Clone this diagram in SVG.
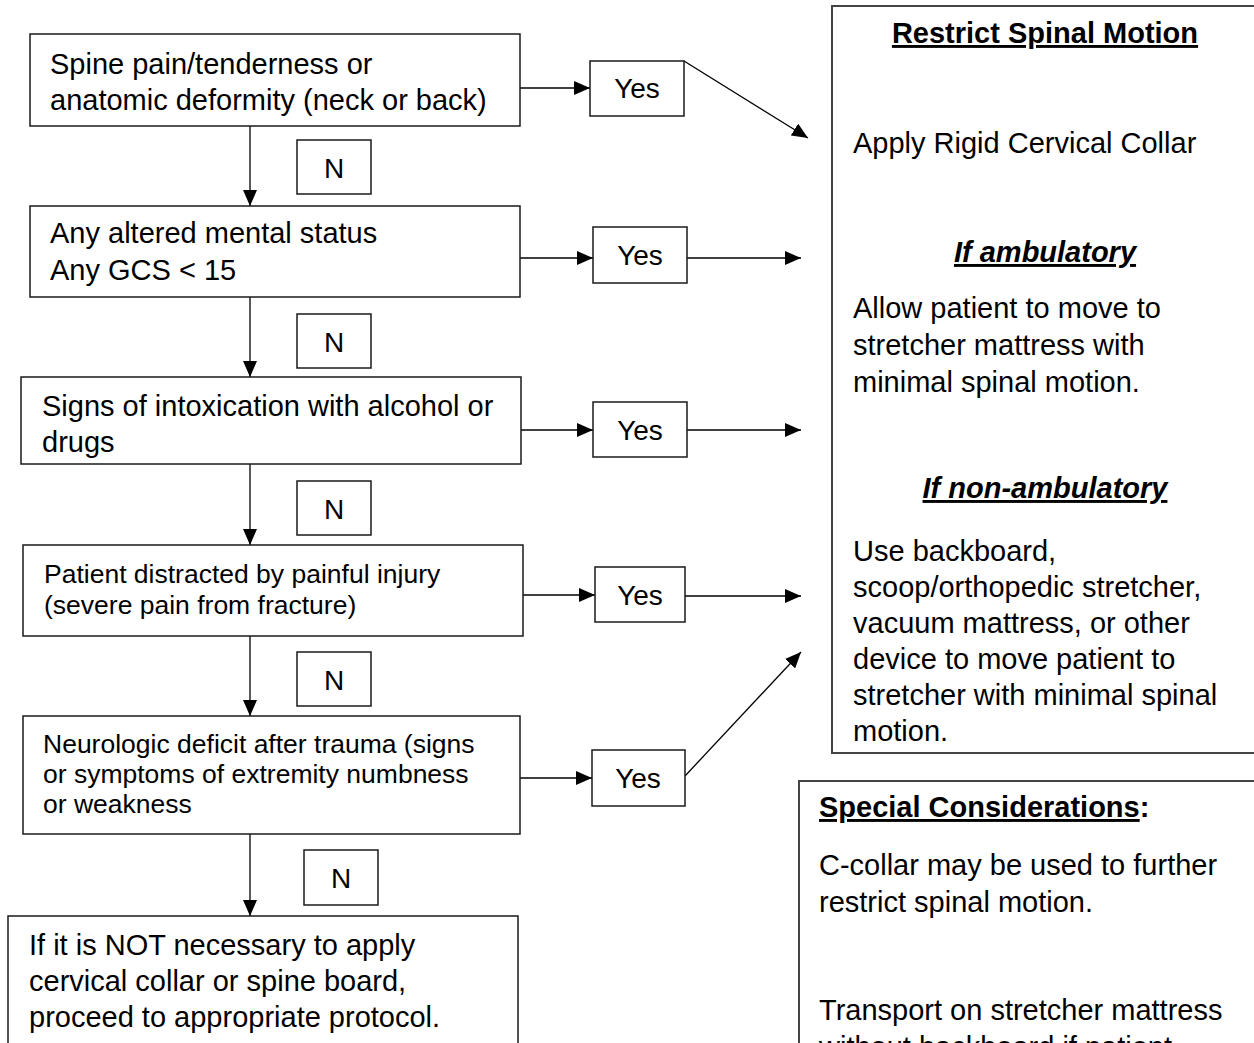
<svg xmlns="http://www.w3.org/2000/svg" width="1254" height="1043" viewBox="0 0 1254 1043">
<defs>
<style>
.box{fill:#fff;stroke:#1a1a1a;stroke-width:1.5}
.panel{fill:#fff;stroke:#444;stroke-width:2}
.t{font-family:"Liberation Sans",Arial,sans-serif;font-size:29px;fill:#000}
.s{font-family:"Liberation Sans",Arial,sans-serif;font-size:26.5px;fill:#000}
.lbl{font-family:"Liberation Sans",Arial,sans-serif;font-size:28px;fill:#000;text-anchor:middle}
.b{font-weight:bold}
.bi{font-weight:bold;font-style:italic}
.u{text-decoration:underline}
.c{text-anchor:middle}
.con{stroke:#000;stroke-width:1.3;fill:none;marker-end:url(#ah)}
</style>
<marker id="ah" markerUnits="userSpaceOnUse" markerWidth="16" markerHeight="14" refX="16" refY="7" orient="auto">
<path d="M0,0 L16,7 L0,14 Z" fill="#000"/>
</marker>
</defs>
<rect width="1254" height="1043" fill="#fff"/>

<g id="connectors">
<line class="con" x1="520" y1="88" x2="590" y2="88"/>
<line class="con" x1="684" y1="61" x2="808" y2="138"/>
<line class="con" x1="250" y1="126" x2="250" y2="206"/>
<line class="con" x1="520" y1="258" x2="593" y2="258"/>
<line class="con" x1="687" y1="258" x2="801" y2="258"/>
<line class="con" x1="250" y1="297" x2="250" y2="377"/>
<line class="con" x1="521" y1="430" x2="593" y2="430"/>
<line class="con" x1="687" y1="430" x2="801" y2="430"/>
<line class="con" x1="250" y1="464" x2="250" y2="545"/>
<line class="con" x1="523" y1="595" x2="595" y2="595"/>
<line class="con" x1="685" y1="596" x2="801" y2="596"/>
<line class="con" x1="250" y1="636" x2="250" y2="716"/>
<line class="con" x1="520" y1="778" x2="592" y2="778"/>
<line class="con" x1="685" y1="776" x2="801" y2="652"/>
<line class="con" x1="250" y1="834" x2="250" y2="916"/>
</g>

<g id="q1">
<rect class="box" x="30" y="34" width="490" height="92"/>
<text class="t" x="50" y="74">Spine pain/tenderness or</text>
<text class="t" x="50" y="110">anatomic deformity (neck or back)</text>
</g>
<g id="yes1"><rect class="box" x="590" y="61" width="94" height="55"/><text class="lbl" x="637" y="98">Yes</text></g>
<g id="n1"><rect class="box" x="297" y="140" width="74" height="54"/><text class="lbl" x="334" y="178">N</text></g>

<g id="q2">
<rect class="box" x="30" y="206" width="490" height="91"/>
<text class="t" x="50" y="243">Any altered mental status</text>
<text class="t" x="50" y="280">Any GCS &lt; 15</text>
</g>
<g id="yes2"><rect class="box" x="593" y="227" width="94" height="56"/><text class="lbl" x="640" y="265">Yes</text></g>
<g id="n2"><rect class="box" x="297" y="314" width="74" height="54"/><text class="lbl" x="334" y="352">N</text></g>

<g id="q3">
<rect class="box" x="21" y="377" width="500" height="87"/>
<text class="t" x="42" y="416">Signs of intoxication with alcohol or</text>
<text class="t" x="42" y="452">drugs</text>
</g>
<g id="yes3"><rect class="box" x="593" y="402" width="94" height="55"/><text class="lbl" x="640" y="440">Yes</text></g>
<g id="n3"><rect class="box" x="297" y="481" width="74" height="54"/><text class="lbl" x="334" y="519">N</text></g>

<g id="q4">
<rect class="box" x="23" y="545" width="500" height="91"/>
<text class="s" x="44" y="583">Patient distracted by painful injury</text>
<text class="s" x="44" y="614">(severe pain from fracture)</text>
</g>
<g id="yes4"><rect class="box" x="595" y="567" width="90" height="55"/><text class="lbl" x="640" y="605">Yes</text></g>
<g id="n4"><rect class="box" x="297" y="652" width="74" height="54"/><text class="lbl" x="334" y="690">N</text></g>

<g id="q5">
<rect class="box" x="23" y="716" width="497" height="118"/>
<text class="s" x="43" y="753">Neurologic deficit after trauma (signs</text>
<text class="s" x="43" y="783">or symptoms of extremity numbness</text>
<text class="s" x="43" y="813">or weakness</text>
</g>
<g id="yes5"><rect class="box" x="592" y="750" width="93" height="56"/><text class="lbl" x="638" y="788">Yes</text></g>
<g id="n5"><rect class="box" x="304" y="850" width="74" height="55"/><text class="lbl" x="341" y="888">N</text></g>

<g id="result">
<rect class="box" x="8" y="916" width="510" height="140"/>
<text class="t" x="29" y="955">If it is NOT necessary to apply</text>
<text class="t" x="29" y="991">cervical collar or spine board,</text>
<text class="t" x="29" y="1027">proceed to appropriate protocol.</text>
</g>

<g id="restrict">
<rect class="panel" x="832" y="6" width="440" height="747"/>
<text class="t b u c" x="1045" y="43">Restrict Spinal Motion</text>
<text class="t" x="853" y="153">Apply Rigid Cervical Collar</text>
<text class="t bi u c" x="1045" y="262">If ambulatory</text>
<text class="t" x="853" y="318">Allow patient to move to</text>
<text class="t" x="853" y="355">stretcher mattress with</text>
<text class="t" x="853" y="392">minimal spinal motion.</text>
<text class="t bi u c" x="1045" y="498">If non-ambulatory</text>
<text class="t" x="853" y="561">Use backboard,</text>
<text class="t" x="853" y="597">scoop/orthopedic stretcher,</text>
<text class="t" x="853" y="633">vacuum mattress, or other</text>
<text class="t" x="853" y="669">device to move patient to</text>
<text class="t" x="853" y="705">stretcher with minimal spinal</text>
<text class="t" x="853" y="741">motion.</text>
</g>

<g id="special">
<rect class="panel" x="799" y="781" width="470" height="300"/>
<text class="t b" x="819" y="817"><tspan class="u">Special Considerations</tspan>:</text>
<text class="t" x="819" y="875">C-collar may be used to further</text>
<text class="t" x="819" y="912">restrict spinal motion.</text>
<text class="t" x="819" y="1020">Transport on stretcher mattress</text>
<text class="t" x="819" y="1057">without backboard if patient</text>
</g>
</svg>
